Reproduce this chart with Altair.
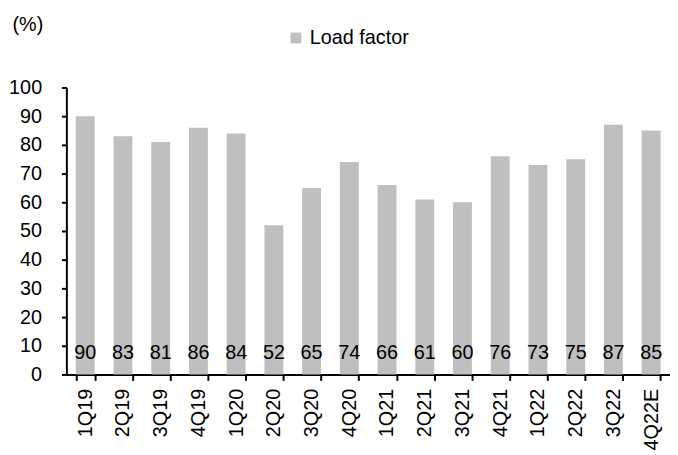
import altair as alt
import pandas as pd

quarters = ["1Q19", "2Q19", "3Q19", "4Q19", "1Q20", "2Q20", "3Q20", "4Q20",
            "1Q21", "2Q21", "3Q21", "4Q21", "1Q22", "2Q22", "3Q22", "4Q22E"]
load_factor = [90, 83, 81, 86, 84, 52, 65, 74, 66, 61, 60, 76, 73, 75, 87, 85]
label_pos = [7.6] * len(quarters)
y_ticks = [0, 10, 20, 30, 40, 50, 60, 70, 80, 90, 100]

df = pd.DataFrame({
    "quarter": quarters,
    "value": load_factor,
    "label_y": label_pos,
    "series": ["Load factor"] * len(quarters),
})

FONT = "Liberation Sans"

x_axis = alt.Axis(labelAngle=-90, labelFontSize=20, labelFont=FONT,
                  labelColor="black", domainColor="black", domainWidth=2,
                  tickColor="black", tickWidth=2, tickSize=6, tickBand="extent",
                  labelPadding=8, title=None)
x_scale = alt.Scale(paddingInner=0.5, paddingOuter=0.25)

y_axis = alt.Axis(values=y_ticks, grid=False, labelOverlap=False,
                  labelFontSize=20, labelFont=FONT, labelColor="black",
                  domainColor="black", domainWidth=2, tickColor="black",
                  tickWidth=2, tickSize=5, labelPadding=20,
                  title="(%)", titleAngle=0, titleAlign="left",
                  titleBaseline="middle", titleX=-55, titleY=-64,
                  titleFontSize=20, titleFont=FONT, titleFontWeight="normal",
                  titleColor="black")
y_scale = alt.Scale(domain=[0, 100])

bars = alt.Chart(df).mark_bar(color="#bfbfbf").encode(
    x=alt.X("quarter:N", sort=quarters, scale=x_scale, axis=x_axis),
    y=alt.Y("value:Q", scale=y_scale, axis=y_axis),
    color=alt.Color("series:N", scale=alt.Scale(range=["#bfbfbf"]),
                    legend=alt.Legend(title=None, orient="none", legendX=222,
                                      legendY=-60, symbolType="square",
                                      symbolSize=121, symbolStrokeWidth=0,
                                      labelFontSize=20, labelFont=FONT,
                                      labelColor="black", symbolOffset=0,
                                      labelOffset=4)),
)

labels = alt.Chart(df).mark_text(fontSize=20, font=FONT, color="black",
                                 baseline="middle").encode(
    x=alt.X("quarter:N", sort=quarters, scale=x_scale, axis=x_axis),
    y=alt.Y("label_y:Q", scale=y_scale, axis=y_axis),
    text=alt.Text("value:Q"),
)

chart = alt.layer(bars, labels).properties(
    width=610, height=290,
    autosize=alt.AutoSizeParams(type="none"),
    padding={"left": 59, "top": 78, "right": 0, "bottom": 74},
).configure_view(stroke=None)

chart.save("out.html", embed_options={"renderer": "svg", "actions": False})
